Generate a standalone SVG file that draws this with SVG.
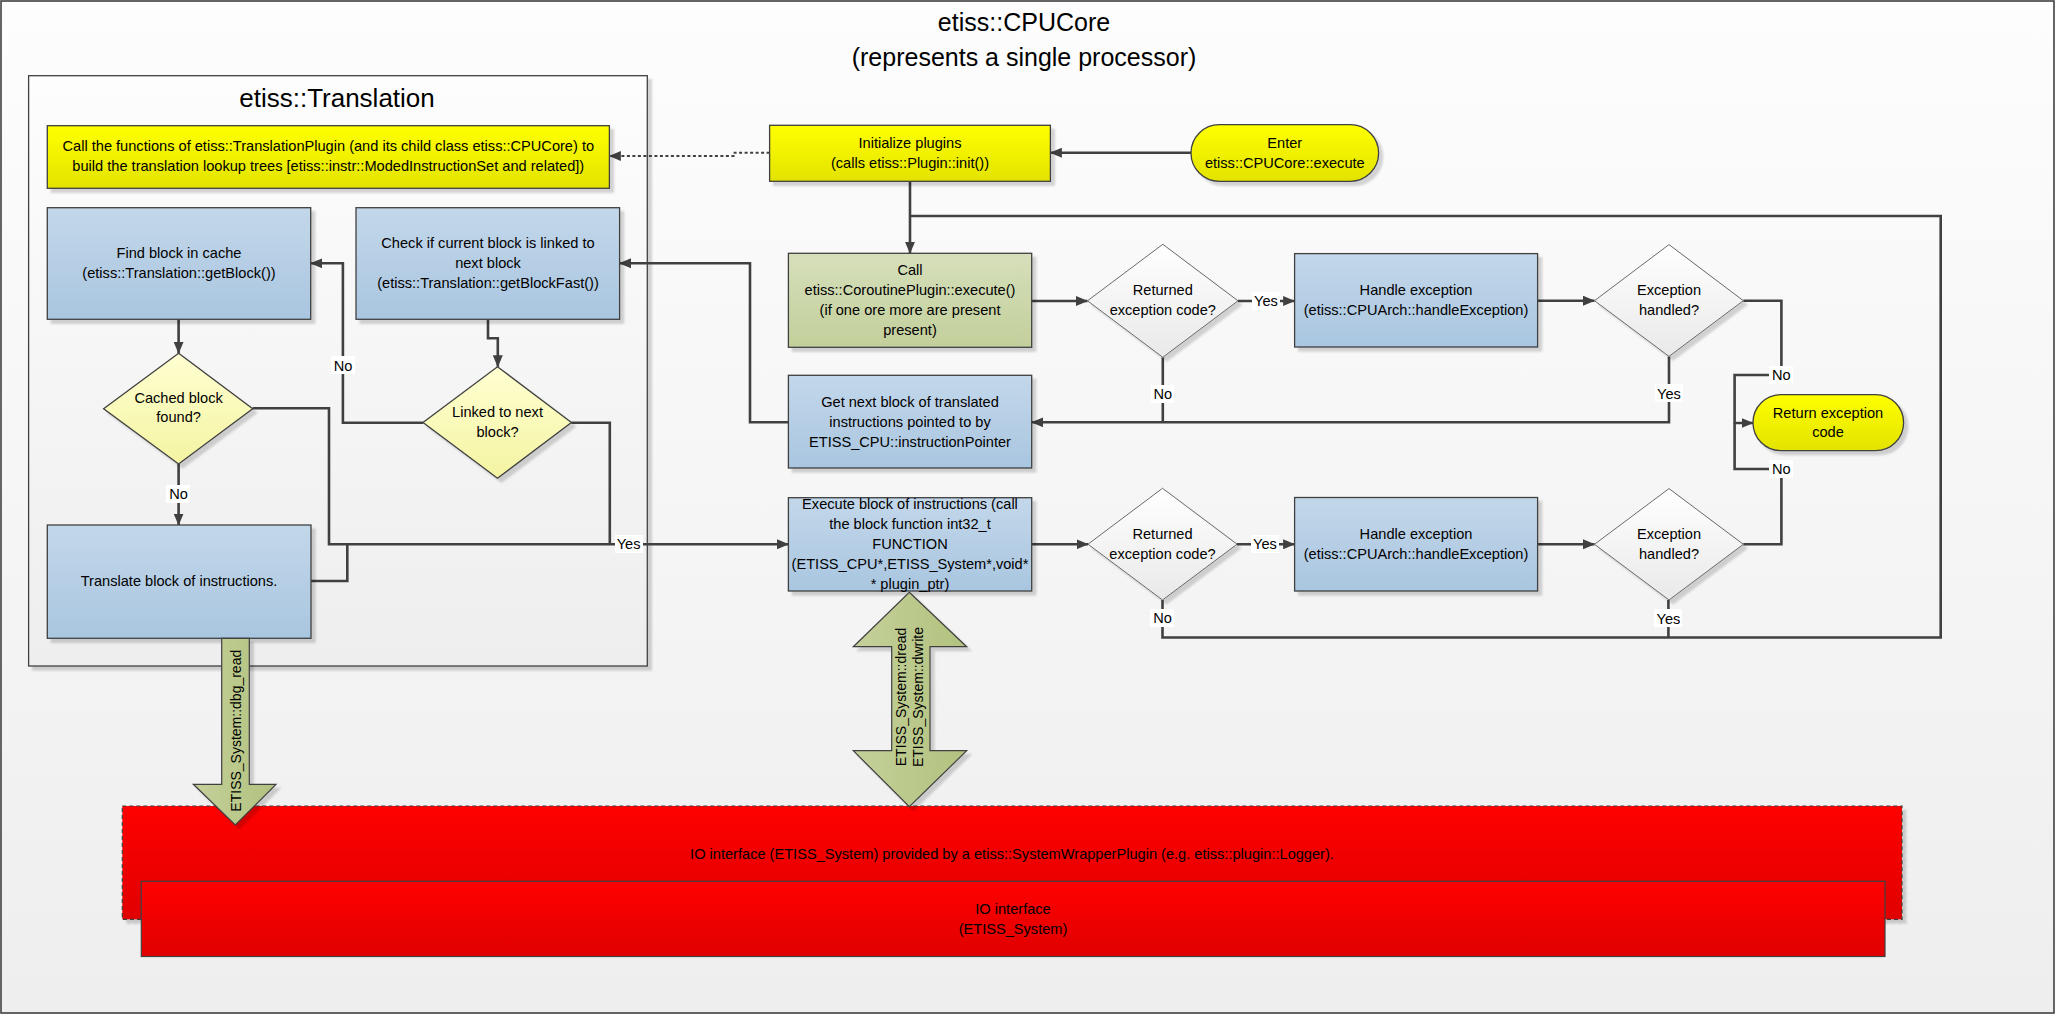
<svg xmlns="http://www.w3.org/2000/svg" width="2057" height="1017" viewBox="0 0 2057 1017">
<defs>
<linearGradient id="gBg" x1="0" y1="0" x2="0" y2="1"><stop offset="0" stop-color="#fdfdfd"/><stop offset="1" stop-color="#eeeeee"/></linearGradient>
<linearGradient id="gYel" x1="0" y1="0" x2="0" y2="1"><stop offset="0" stop-color="#ffff00"/><stop offset="1" stop-color="#e3e300"/></linearGradient>
<linearGradient id="gBlue" x1="0" y1="0" x2="0" y2="1"><stop offset="0" stop-color="#c3d7ea"/><stop offset="1" stop-color="#a9c6e0"/></linearGradient>
<linearGradient id="gGreen" x1="0" y1="0" x2="0" y2="1"><stop offset="0" stop-color="#d6dfbb"/><stop offset="1" stop-color="#c3cf9b"/></linearGradient>
<linearGradient id="gDia" x1="0" y1="0" x2="0" y2="1"><stop offset="0" stop-color="#ffffff"/><stop offset="1" stop-color="#e9e9e9"/></linearGradient>
<linearGradient id="gYDia" x1="0" y1="0" x2="0" y2="1"><stop offset="0" stop-color="#ffffd2"/><stop offset="1" stop-color="#f4f4a2"/></linearGradient>
<linearGradient id="gRed" x1="0" y1="0" x2="0" y2="1"><stop offset="0" stop-color="#ff0000"/><stop offset="1" stop-color="#e00000"/></linearGradient>
<linearGradient id="gArr" x1="0" y1="0" x2="1" y2="0"><stop offset="0" stop-color="#c4d09a"/><stop offset="1" stop-color="#b2c27e"/></linearGradient>
<filter id="sh" x="-5%" y="-5%" width="115%" height="130%">
<feOffset in="SourceAlpha" dx="4" dy="4" result="o"/>
<feGaussianBlur in="o" stdDeviation="1.2" result="b"/>
<feFlood flood-color="#000" flood-opacity="0.16"/>
<feComposite in2="b" operator="in" result="s"/>
<feMerge><feMergeNode in="s"/><feMergeNode in="SourceGraphic"/></feMerge>
</filter>
<marker id="ah" viewBox="0 0 12 10" refX="11.5" refY="5" markerWidth="12" markerHeight="10" markerUnits="userSpaceOnUse" orient="auto">
<path d="M0,0 L12,5 L0,10 z" fill="#404040"/>
</marker>
<marker id="ahd" viewBox="0 0 12 10" refX="11.5" refY="5" markerWidth="12" markerHeight="10" markerUnits="userSpaceOnUse" orient="auto">
<path d="M0,0 L12,5 L0,10 z" fill="#404040"/>
</marker>
</defs>
<style>
text{font-family:"Liberation Sans",Arial,sans-serif;fill:#000;}
.t{font-size:14.6px;text-anchor:middle;}
.box{stroke:#404040;stroke-width:1.3;}
.dia{stroke:#6a6a6a;stroke-width:1;}
.c{fill:none;stroke:#404040;stroke-width:2.6;}
.cd{fill:none;stroke:#404040;stroke-width:2;stroke-dasharray:3,2.5;}
.lb{fill:#ffffff;}
</style>

<rect x="1" y="1" width="2053" height="1012" fill="url(#gBg)" stroke="#404040" stroke-width="1.6"/>
<text x="1024" y="31" font-size="25" text-anchor="middle">etiss::CPUCore</text>
<text x="1024" y="66" font-size="25" text-anchor="middle">(represents a single processor)</text>

<g id="translation">
<rect x="28.6" y="75.7" width="618.7" height="590.3" fill="url(#gBg)" stroke="#404040" stroke-width="1.3" filter="url(#sh)"/>
<text x="337" y="107" font-size="26" text-anchor="middle">etiss::Translation</text>
</g>

<g id="connectors">
<path class="c" d="M1191,152.7 L1050.4,152.7" marker-end="url(#ah)"/>
<path class="c" d="M910,181.3 L910,253.3" marker-end="url(#ah)"/>
<path class="cd" d="M769.6,152.7 L733.5,152.7 L733.5,156 L609.4,156" marker-end="url(#ahd)"/>
<path class="c" d="M1031.7,301 L1087.5,301" marker-end="url(#ah)"/>
<path class="c" d="M1238,301 L1294.6,301" marker-end="url(#ah)"/>
<path class="c" d="M1162.8,357.3 L1162.8,422.3"/>
<path class="c" d="M1537.6,300.7 L1594.5,300.7" marker-end="url(#ah)"/>
<path class="c" d="M1743.3,300.7 L1781.4,300.7 L1781.4,375 L1734.6,375 L1734.6,423 L1753,423" marker-end="url(#ah)"/>
<path class="c" d="M1743.3,544.3 L1781.4,544.3 L1781.4,469 L1734.6,469 L1734.6,423"/>
<path class="c" d="M1669,356.4 L1669,422.3 L1031.7,422.3" marker-end="url(#ah)"/>
<path class="c" d="M788.4,422.3 L750,422.3 L750,263.3 L619.6,263.3" marker-end="url(#ah)"/>
<path class="c" d="M488,319.3 L488,338.3 L497.8,338.3 L497.8,366.7" marker-end="url(#ah)"/>
<path class="c" d="M423,422.7 L342.9,422.7 L342.9,263.3 L310.7,263.3" marker-end="url(#ah)"/>
<path class="c" d="M178.6,319.3 L178.6,353.3" marker-end="url(#ah)"/>
<path class="c" d="M178.6,464 L178.6,525" marker-end="url(#ah)"/>
<path class="c" d="M252.7,408.3 L329,408.3 L329,544.3 L788.4,544.3" marker-end="url(#ah)"/>
<path class="c" d="M571.4,422.7 L609.8,422.7 L609.8,544.3"/>
<path class="c" d="M311,581 L347.3,581 L347.3,544.3"/>
<path class="c" d="M1031.7,544.3 L1088,544.3" marker-end="url(#ah)"/>
<path class="c" d="M1237,544.3 L1294.6,544.3" marker-end="url(#ah)"/>
<path class="c" d="M1537.6,544.3 L1594.5,544.3" marker-end="url(#ah)"/>
<path class="c" d="M1162.5,600 L1162.5,637.5 L1940.7,637.5 L1940.7,216 L910,216"/>
<path class="c" d="M1668.4,600 L1668.4,637.5"/>
<rect class="lb" x="1252" y="292" width="28" height="18"/><text class="t" x="1266" y="306">Yes</text>
<rect class="lb" x="1151" y="385" width="23" height="18"/><text class="t" x="1162.8" y="399">No</text>
<rect class="lb" x="1769" y="366" width="24" height="18"/><text class="t" x="1781.4" y="380">No</text>
<rect class="lb" x="1769" y="460" width="24" height="18"/><text class="t" x="1781.4" y="474">No</text>
<rect class="lb" x="1655" y="384" width="28" height="18"/><text class="t" x="1669" y="398.6">Yes</text>
<rect class="lb" x="331" y="356" width="24" height="18"/><text class="t" x="343" y="370.7">No</text>
<rect class="lb" x="166" y="485" width="24" height="18"/><text class="t" x="178.6" y="499.3">No</text>
<rect class="lb" x="615" y="535" width="28" height="18"/><text class="t" x="628.6" y="549.3">Yes</text>
<rect class="lb" x="1251" y="535" width="28" height="18"/><text class="t" x="1265" y="549.3">Yes</text>
<rect class="lb" x="1150" y="609" width="24" height="18"/><text class="t" x="1162.5" y="623.3">No</text>
<rect class="lb" x="1654" y="609" width="28" height="18"/><text class="t" x="1668.4" y="623.6">Yes</text>
</g>

<g id="build-trees">
<rect class="box" x="47.3" y="125.7" width="562.1" height="62.6" fill="url(#gYel)" filter="url(#sh)"/>
<text class="t" x="328.3" y="151">Call the functions of etiss::TranslationPlugin (and its child class etiss::CPUCore) to</text>
<text class="t" x="328.3" y="171">build the translation lookup trees [etiss::instr::ModedInstructionSet and related])</text>
</g>
<g id="find-block">
<rect class="box" x="47.3" y="207.7" width="263.4" height="111.6" fill="url(#gBlue)" filter="url(#sh)"/>
<text class="t" x="179" y="257.7">Find block in cache</text>
<text class="t" x="179" y="277.7">(etiss::Translation::getBlock())</text>
</g>
<g id="check-linked">
<rect class="box" x="356" y="207.7" width="263.6" height="111.6" fill="url(#gBlue)" filter="url(#sh)"/>
<text class="t" x="488" y="247.7">Check if current block is linked to</text>
<text class="t" x="488" y="267.7">next block</text>
<text class="t" x="488" y="287.7">(etiss::Translation::getBlockFast())</text>
</g>
<g id="cached-found">
<path class="box" d="M178.6,353.3 L252.7,408.7 L178.6,464 L103.6,408.7 z" fill="url(#gYDia)" filter="url(#sh)"/>
<text class="t" x="178.6" y="402.7">Cached block</text>
<text class="t" x="178.6" y="422.3">found?</text>
</g>
<g id="linked-next">
<path class="box" d="M497.5,366.7 L571.4,422.5 L497.5,478.3 L423,422.5 z" fill="url(#gYDia)" filter="url(#sh)"/>
<text class="t" x="497.5" y="417.3">Linked to next</text>
<text class="t" x="497.5" y="436.7">block?</text>
</g>
<g id="translate-block">
<rect class="box" x="47.3" y="525" width="263.7" height="113.3" fill="url(#gBlue)" filter="url(#sh)"/>
<text class="t" x="179" y="586">Translate block of instructions.</text>
</g>

<g id="init-plugins">
<rect class="box" x="769.6" y="125.3" width="280.8" height="56" fill="url(#gYel)" filter="url(#sh)"/>
<text class="t" x="910" y="147.7">Initialize plugins</text>
<text class="t" x="910" y="167.7">(calls etiss::Plugin::init())</text>
</g>
<g id="enter">
<rect class="box" x="1191" y="124.7" width="187.6" height="56.6" rx="28.3" fill="url(#gYel)" filter="url(#sh)"/>
<text class="t" x="1284.8" y="147.7">Enter</text>
<text class="t" x="1284.8" y="167.7">etiss::CPUCore::execute</text>
</g>
<g id="call-coroutine">
<rect class="box" x="788.4" y="253.3" width="243.3" height="94" fill="url(#gGreen)" filter="url(#sh)"/>
<text class="t" x="910" y="275">Call</text>
<text class="t" x="910" y="295">etiss::CoroutinePlugin::execute()</text>
<text class="t" x="910" y="315">(if one ore more are present</text>
<text class="t" x="910" y="335">present)</text>
</g>
<g id="returned-1">
<path class="dia" d="M1162.8,244.3 L1238,300.8 L1162.8,357.3 L1087.5,300.8 z" fill="url(#gDia)" filter="url(#sh)"/>
<text class="t" x="1162.8" y="295">Returned</text>
<text class="t" x="1162.8" y="315">exception code?</text>
</g>
<g id="handle-1">
<rect class="box" x="1294.6" y="253.6" width="243" height="93.4" fill="url(#gBlue)" filter="url(#sh)"/>
<text class="t" x="1416" y="295">Handle exception</text>
<text class="t" x="1416" y="315">(etiss::CPUArch::handleException)</text>
</g>
<g id="handled-1">
<path class="dia" d="M1669,244.6 L1743.3,300.7 L1669,356.4 L1594.5,300.7 z" fill="url(#gDia)" filter="url(#sh)"/>
<text class="t" x="1669" y="295">Exception</text>
<text class="t" x="1669" y="315">handled?</text>
</g>
<g id="return-code">
<rect class="box" x="1753" y="394.6" width="150.6" height="56.1" rx="28" fill="url(#gYel)" filter="url(#sh)"/>
<text class="t" x="1828" y="417.5">Return exception</text>
<text class="t" x="1828" y="437">code</text>
</g>
<g id="get-next">
<rect class="box" x="788.4" y="375.3" width="243.3" height="92.7" fill="url(#gBlue)" filter="url(#sh)"/>
<text class="t" x="910" y="406.7">Get next block of translated</text>
<text class="t" x="910" y="426.7">instructions pointed to by</text>
<text class="t" x="910" y="446.7">ETISS_CPU::instructionPointer</text>
</g>
<g id="execute-block">
<rect class="box" x="788.4" y="497.7" width="243.3" height="93.3" fill="url(#gBlue)" filter="url(#sh)"/>
<text class="t" x="910" y="509.3">Execute block of instructions (call</text>
<text class="t" x="910" y="529.3">the block function int32_t</text>
<text class="t" x="910" y="549.3">FUNCTION</text>
<text class="t" x="910" y="569.3">(ETISS_CPU*,ETISS_System*,void*</text>
<text class="t" x="910" y="589.3">* plugin_ptr)</text>
</g>
<g id="returned-2">
<path class="dia" d="M1162.5,488.3 L1237,544.2 L1162.5,600 L1088,544.2 z" fill="url(#gDia)" filter="url(#sh)"/>
<text class="t" x="1162.5" y="538.5">Returned</text>
<text class="t" x="1162.5" y="559">exception code?</text>
</g>
<g id="handle-2">
<rect class="box" x="1294.6" y="497.5" width="243" height="93.5" fill="url(#gBlue)" filter="url(#sh)"/>
<text class="t" x="1416" y="539">Handle exception</text>
<text class="t" x="1416" y="558.6">(etiss::CPUArch::handleException)</text>
</g>
<g id="handled-2">
<path class="dia" d="M1669,488.6 L1743.3,544.3 L1669,600 L1594.5,544.3 z" fill="url(#gDia)" filter="url(#sh)"/>
<text class="t" x="1669" y="539">Exception</text>
<text class="t" x="1669" y="558.6">handled?</text>
</g>

<g id="io-wrapper">
<rect x="122.3" y="806" width="1779.7" height="113.3" fill="url(#gRed)" stroke="#404040" stroke-width="1.2" stroke-dasharray="4,3" filter="url(#sh)"/>
<text class="t" x="1012" y="859.3">IO interface (ETISS_System) provided by a etiss::SystemWrapperPlugin (e.g. etiss::plugin::Logger).</text>
</g>
<g id="io-interface">
<rect x="141.3" y="881.3" width="1743.7" height="75.2" fill="url(#gRed)" stroke="#404040" stroke-width="1.2"/>
<text class="t" x="1013" y="914">IO interface</text>
<text class="t" x="1013" y="934">(ETISS_System)</text>
</g>

<g id="dbg-read-arrow">
<path d="M221.7,638.3 L249.3,638.3 L249.3,784.3 L276,784.3 L235.3,825 L193.3,784.3 L221.7,784.3 z" fill="url(#gArr)" stroke="#404040" stroke-width="1.2" filter="url(#sh)"/>
<text transform="translate(240.5,730.7) rotate(-90)" font-size="14" text-anchor="middle">ETISS_System::dbg_read</text>
</g>
<g id="dread-dwrite-arrow">
<path d="M909.3,592.3 L966.7,646.7 L930,646.7 L930,750.7 L966.7,750.7 L909.3,806.7 L853.3,750.7 L891.7,750.7 L891.7,646.7 L853.3,646.7 z" fill="url(#gArr)" stroke="#404040" stroke-width="1.2" filter="url(#sh)"/>
<text transform="translate(905.7,697) rotate(-90)" font-size="14" text-anchor="middle">ETISS_System::dread</text>
<text transform="translate(923.3,697) rotate(-90)" font-size="14" text-anchor="middle">ETISS_System::dwrite</text>
</g>
</svg>
